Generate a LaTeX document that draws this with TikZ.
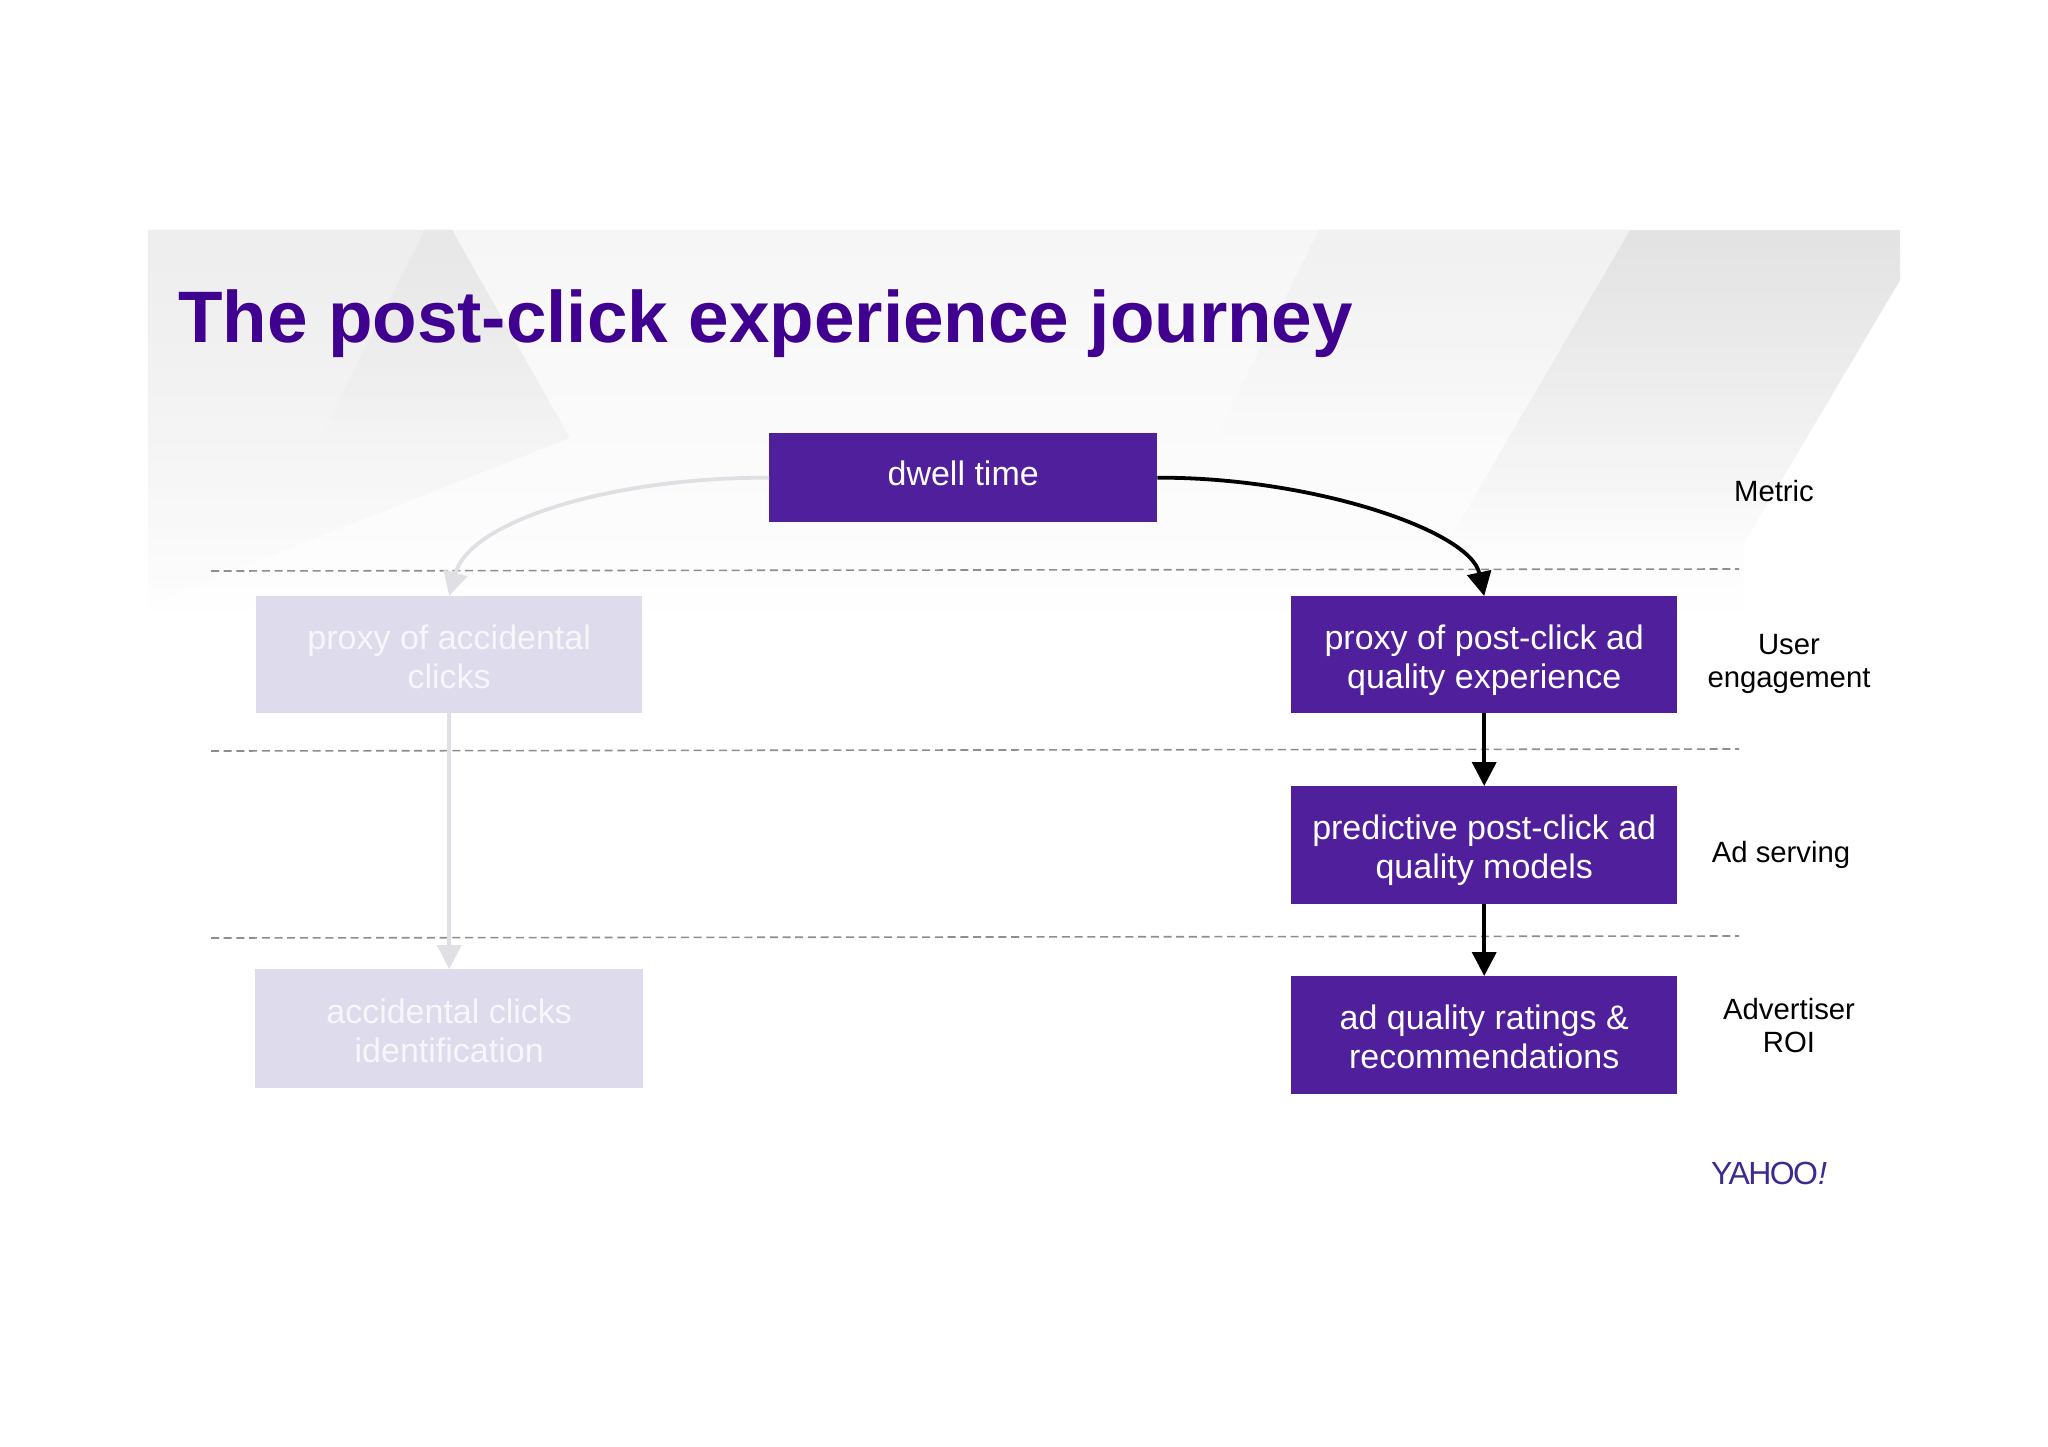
\documentclass[tikz,border=0pt]{standalone}
\usepackage{fontspec}
\setmainfont{Liberation Sans}
\usetikzlibrary{arrows.meta,fadings}
\definecolor{boxpurple}{HTML}{4F1F9C}
\definecolor{boxlight}{HTML}{DEDBEC}
\definecolor{titlepurple}{HTML}{400090}
\definecolor{greyarrow}{HTML}{E0DFE3}
\definecolor{dashgrey}{HTML}{8E8E8E}
\definecolor{yahoopurple}{HTML}{3B2A92}
\definecolor{bgtop}{HTML}{F6F6F7}
\definecolor{bgmid}{HTML}{FAFAFB}
\definecolor{bgbot}{HTML}{FEFEFF}
\definecolor{ltop}{HTML}{EEEEEF}
\definecolor{ldark}{HTML}{E8E8E9}
\definecolor{rtop}{HTML}{E3E3E4}
\definecolor{mtop}{HTML}{F1F1F2}
\tikzfading[name=softdown, top color=transparent!0, middle color=transparent!95, bottom color=transparent!100]
\newcommand\firstln{\rule{0pt}{36pt}}
\newcommand\lastln{\rule[-8pt]{0pt}{33pt}}
\newcommand\oneln{\rule[-12pt]{0pt}{39pt}}
\tikzset{
  x=1pt,y=-1pt,
  mainbox/.style={fill=boxpurple,text=white,draw=none,inner sep=0pt,align=center,anchor=north west,
     font=\fontsize{34}{39}\selectfont},
  fadedbox/.style={fill=boxlight,text=white!75!boxlight,draw=none,inner sep=0pt,align=center,anchor=north west,
     font=\fontsize{34}{39}\selectfont},
  sidelabel/.style={text=black,inner sep=0pt,align=center,font=\fontsize{29.3}{33}\selectfont},
  divider/.style={dashgrey,line width=1.6pt,dash pattern=on 8pt off 4.7pt},
  darkarrow/.style={black,line width=3.8pt,-{Triangle[length=24pt,width=24pt]}},
  fadedarrow/.style={greyarrow,line width=3.8pt,-{Triangle[length=24pt,width=24pt]}},
}
\begin{document}
\begin{tikzpicture}
\useasboundingbox (0,0) rectangle (2048,1447);
\fill[white] (0,0) rectangle (2048,1447);
% slide background
\shade[top color=bgtop, middle color=bgmid, bottom color=bgbot]
  (148,230) -- (1900,230) -- (1900,280) -- (1743,545) -- (1743,610) -- (148,610) -- cycle;
\fill[ltop,path fading=softdown]
  (148,230) -- (452,230) -- (570,438) -- (260,560) -- (148,605) -- cycle;
\fill[ldark,path fading=softdown]
  (425,230) -- (452,230) -- (570,438) -- (320,438) -- cycle;
\fill[mtop,path fading=softdown]
  (1319,230) -- (1630,230) -- (1510,435) -- (1217,435) -- cycle;
\fill[rtop,path fading=softdown]
  (1630,230) -- (1900,230) -- (1900,280) -- (1743,545) -- (1446,545) -- cycle;
% title
\node[anchor=base west,inner sep=0pt,text=titlepurple,font=\fontsize{72.9}{80}\selectfont\bfseries] (title) at (178,342) {The post-click experience journey};
% dividers
\coordinate (d1l) at (211,571); \coordinate (d1r) at (1739,569);
\coordinate (d2l) at (211,751); \coordinate (d2r) at (1739,749);
\coordinate (d3l) at (211,938); \coordinate (d3r) at (1739,936);
\draw[divider] (d1l) -- (d1r);
\draw[divider] (d2l) -- (d2r);
\draw[divider] (d3l) -- (d3r);
% boxes
\node[mainbox,minimum width=388pt,minimum height=89pt] (dwell) at (769,433) {\oneln dwell time};
\node[mainbox,minimum width=386pt,minimum height=117pt] (proxyad) at (1291,596) {\firstln proxy of post-click ad\\\lastln quality experience};
\node[mainbox,minimum width=386pt,minimum height=118pt] (predict) at (1291,786) {\firstln predictive post-click ad\\\lastln quality models};
\node[mainbox,minimum width=386pt,minimum height=118pt] (ratings) at (1291,976) {\firstln ad quality ratings \&\\\lastln recommendations};
\node[fadedbox,minimum width=386pt,minimum height=117pt] (proxyacc) at (256,596) {\firstln proxy of accidental\\\lastln clicks};
\node[fadedbox,minimum width=388pt,minimum height=119pt] (accid) at (255,969) {\firstln accidental clicks\\\lastln identification};
% connectors
\draw[fadedarrow] (dwell.west) .. controls (615,477) and (470,520) .. (proxyacc.north);
\draw[fadedarrow] (proxyacc.south) -- (accid.north);
\draw[darkarrow] (dwell.east) .. controls (1310,477) and (1470,530) .. (proxyad.north);
\draw[darkarrow] (proxyad.south) -- (predict.north);
\draw[darkarrow] (predict.south) -- (ratings.north);
% side labels
\node[sidelabel] (metric) at (1774,491) {Metric};
\node[sidelabel] (user) at (1789,664) {User\\engagement};
\node[sidelabel] (serving) at (1781,855) {Ad serving};
\node[sidelabel] (roi) at (1789,1026) {Advertiser\\ROI};
% logo
\node[anchor=base west,inner sep=0pt,text=yahoopurple,font=\fontsize{32}{32}\selectfont] (yahoo) at (1711,1184) {\addfontfeature{LetterSpace=-5}YAHOO\itshape !};
\end{tikzpicture}
\end{document}
